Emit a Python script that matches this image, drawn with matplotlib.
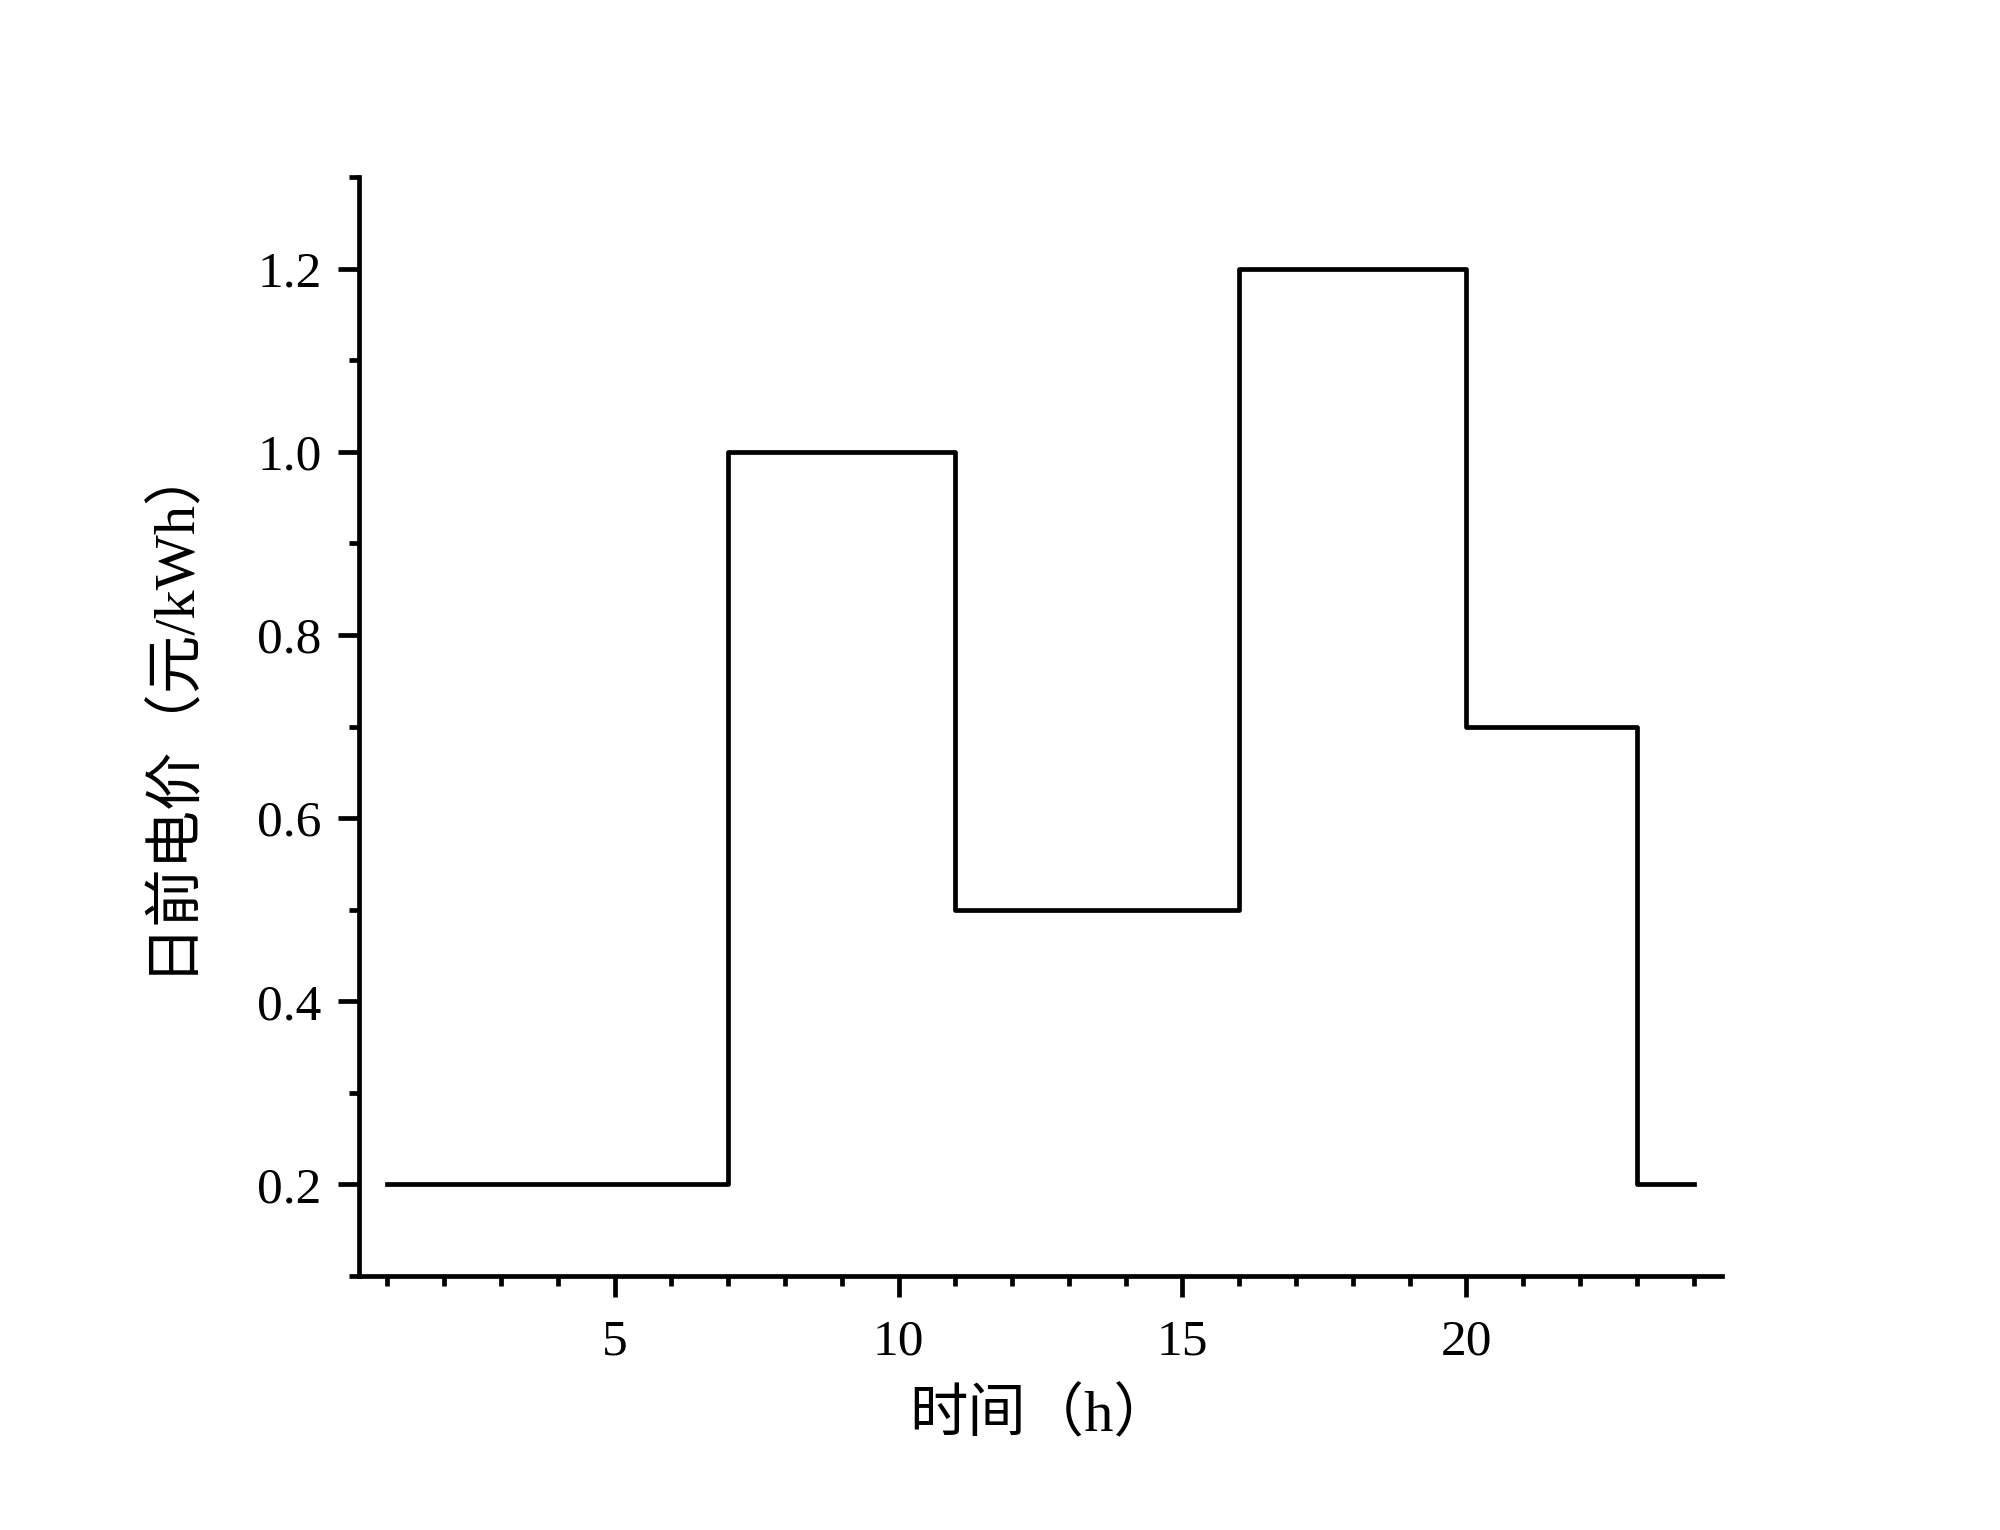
import matplotlib
matplotlib.use('Agg')
import matplotlib.pyplot as plt
from matplotlib.ticker import MultipleLocator, FormatStrFormatter

# 日前电价 (分时电价) 数据
hours = [1, 2, 3, 4, 5, 6, 7, 8, 9, 10, 11, 12,
         13, 14, 15, 16, 17, 18, 19, 20, 21, 22, 23, 24]
price = [0.2, 0.2, 0.2, 0.2, 0.2, 0.2, 1.0, 1.0, 1.0, 1.0, 0.5, 0.5,
         0.5, 0.5, 0.5, 1.2, 1.2, 1.2, 1.2, 0.7, 0.7, 0.7, 0.2, 0.2]
xlabel = '时间（h）'
ylabel = '日前电价（元/kWh）'

fam = ['Liberation Serif', 'Noto Sans CJK SC', 'DejaVu Sans']
plt.rcParams['font.family'] = fam

fig = plt.figure(figsize=(20, 15.3), dpi=100)
ax = fig.add_axes([0.1795, 0.166, 0.6815, 0.7183])

ax.step(hours, price, where='post', color='black', linewidth=3.4)

ax.set_xlim(0.5, 24.5)
ax.set_ylim(0.1, 1.3)
ax.xaxis.set_major_locator(MultipleLocator(5))
ax.xaxis.set_minor_locator(MultipleLocator(1))
ax.yaxis.set_major_locator(MultipleLocator(0.2))
ax.yaxis.set_minor_locator(MultipleLocator(0.1))
ax.yaxis.set_major_formatter(FormatStrFormatter('%.1f'))

ax.spines['top'].set_visible(False)
ax.spines['right'].set_visible(False)
for s in ['left', 'bottom']:
    ax.spines[s].set_linewidth(3.4)

ax.tick_params(which='major', direction='out', length=15, width=3.4,
               labelsize=37, pad=12)
ax.tick_params(axis='x', which='major', pad=16)
ax.tick_params(which='minor', direction='out', length=7.5, width=3.4)

ax.set_xlabel(xlabel, fontsize=42, family=fam, labelpad=16)
ax.set_ylabel(ylabel, fontsize=42, family=fam, labelpad=43)
# 标签略微上移，与原图对齐
ax.yaxis.label.set_y(0.52)

fig.savefig('out.png', dpi=100)
